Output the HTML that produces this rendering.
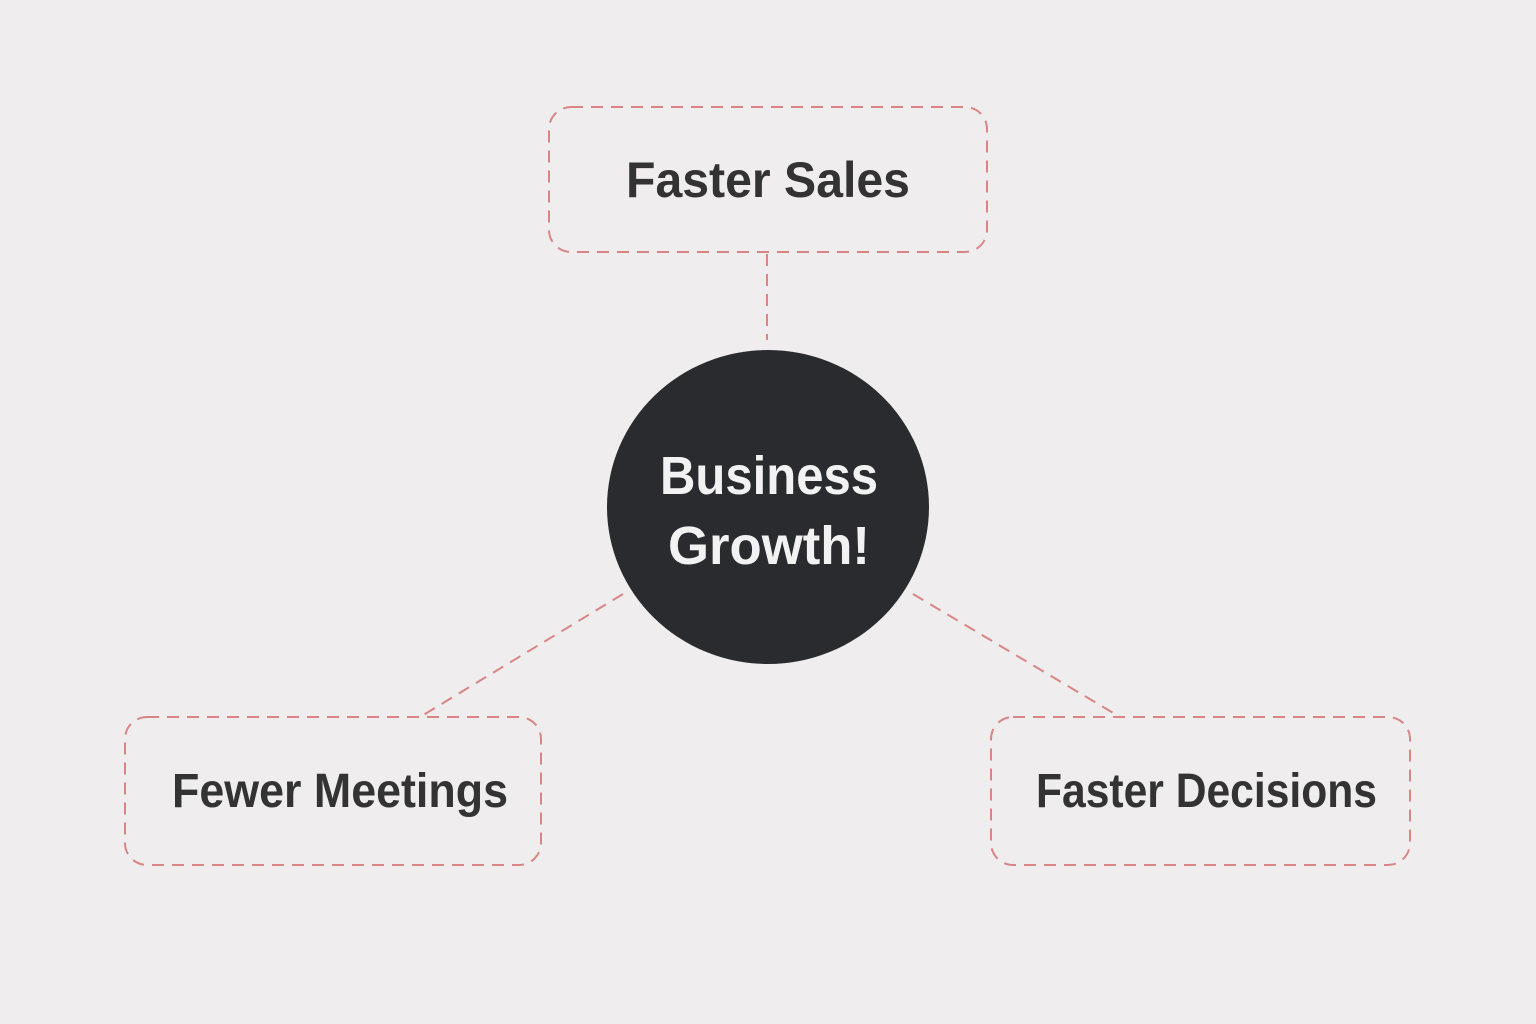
<!DOCTYPE html>
<html><head><meta charset="utf-8"><style>
html,body{margin:0;padding:0;background:#efedee;}
svg{display:block}
text{font-family:"Liberation Sans","DejaVu Sans",sans-serif;font-weight:bold}
</style></head><body>
<svg width="1536" height="1024" viewBox="0 0 1536 1024" xmlns="http://www.w3.org/2000/svg">
<rect width="1536" height="1024" fill="#efedee"/>
<g fill="none" stroke="#d98585" stroke-width="2" stroke-dasharray="12 8">
<rect x="549" y="107" width="438" height="145" rx="22"/>
<rect x="125" y="717" width="416" height="148" rx="22"/>
<rect x="991" y="717" width="419" height="148" rx="22"/>
<line x1="767" y1="254" x2="767" y2="340"/>
<line x1="623" y1="594" x2="420" y2="717"/>
<line x1="913" y1="594" x2="1120" y2="717"/>
</g>
<ellipse cx="768" cy="507" rx="161" ry="157" fill="#2a2b2f"/>
<g fill="#333333">
<text x="626" y="197" font-size="50" textLength="284" lengthAdjust="spacingAndGlyphs">Faster Sales</text>
<text x="172" y="807" font-size="48" textLength="336" lengthAdjust="spacingAndGlyphs">Fewer Meetings</text>
<text x="1036" y="807" font-size="48" textLength="341" lengthAdjust="spacingAndGlyphs">Faster Decisions</text>
</g>
<g fill="#f2f2f2">
<text x="660" y="494" font-size="54" textLength="218" lengthAdjust="spacingAndGlyphs">Business</text>
<text x="668" y="564" font-size="54" textLength="202" lengthAdjust="spacingAndGlyphs">Growth!</text>
</g>
</svg>
</body></html>
